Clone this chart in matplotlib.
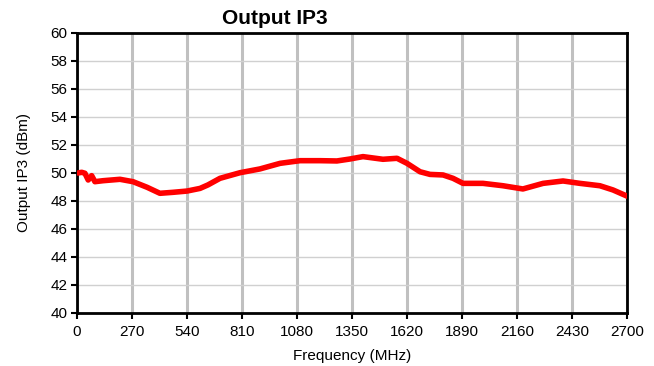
import numpy as np
import matplotlib.pyplot as plt

# Output IP3 sweep (MHz, dBm)
freq_mhz = [5, 23, 39, 55, 72, 88, 128, 211, 275, 344, 407, 471, 540, 604,
            643, 702, 800, 898, 997, 1095, 1193, 1276, 1340, 1404, 1502,
            1571, 1620, 1684, 1733, 1797, 1846, 1895, 1993, 2091, 2189,
            2288, 2386, 2469, 2567, 2631, 2700]
oip3_dbm = [50.0, 50.05, 49.98, 49.5, 49.81, 49.38, 49.45, 49.55, 49.38,
            48.98, 48.55, 48.62, 48.71, 48.9, 49.15, 49.62, 50.02, 50.29,
            50.69, 50.88, 50.88, 50.86, 51.0, 51.17, 50.98, 51.05, 50.69,
            50.09, 49.9, 49.86, 49.62, 49.26, 49.26, 49.09, 48.86, 49.26,
            49.43, 49.26, 49.09, 48.79, 48.35]

x_ticks = np.arange(0, 2701, 270)
y_ticks = np.arange(40, 61, 2)

plt.rcParams.update({
    "font.family": ["Liberation Sans", "DejaVu Sans"],
    "font.size": 11,
})

fig = plt.figure(figsize=(6.54, 3.66), dpi=100)
ax = fig.add_axes([77 / 654, 1 - 313 / 366, 550 / 654, 280 / 366])

ax.plot(freq_mhz, oip3_dbm, color="#ff0000", linewidth=4.0,
        solid_joinstyle="round", solid_capstyle="round", zorder=3)

ax.set_xlim(0, 2700)
ax.set_ylim(40, 60)
ax.set_xticks(x_ticks)
ax.set_yticks(y_ticks)

ax.xaxis.grid(True, color="#c0c0c0", linewidth=2.2)
ax.yaxis.grid(True, color="#d0d0d0", linewidth=1.0)
ax.set_axisbelow(True)

for s in ax.spines.values():
    s.set_linewidth(2.0)
    s.set_color("black")

ax.tick_params(axis="both", direction="out", length=4, width=1.5,
               labelsize=11, colors="black")
ax.tick_params(axis="x", pad=5)
ax.tick_params(axis="y", pad=3)

ax.set_xlabel("Frequency (MHz)", fontsize=11, labelpad=7)
ax.set_ylabel("Output IP3 (dBm)", fontsize=11, labelpad=14)

fig.text(275 / 654, 1 - 18 / 366, "Output IP3", ha="center", va="center",
         fontsize=15, fontweight="bold")

fig.savefig("out.png", dpi=100)
